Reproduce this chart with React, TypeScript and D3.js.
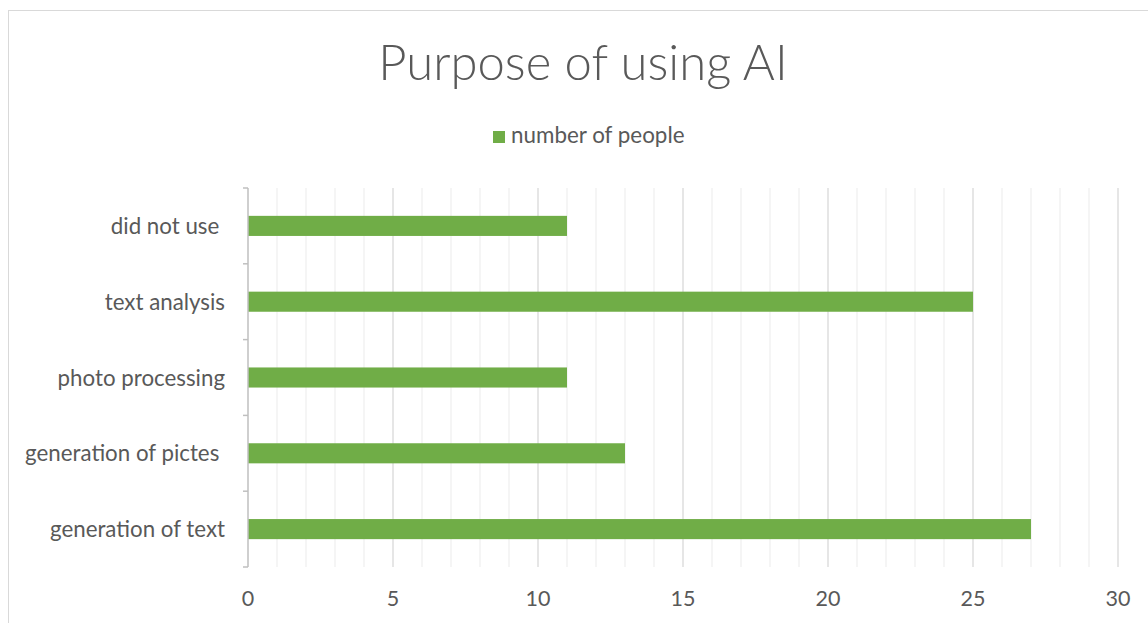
import React from "react";
import * as d3 from "d3";

const categories = ["did not use ", "text analysis", "photo processing", "generation of pictes ", "generation of text"];
const values = [11, 25, 11, 13, 27];
const xTicks = [0, 5, 10, 15, 20, 25, 30];
const seriesName = "number of people";
const title = "Purpose of using AI";

const W = 1148;
const H = 623;
const FONT = "Lato, 'Open Sans', sans-serif";
const TEXT = "#595959";
const BAR = "#70ad47";

export default function App() {
  const x = d3.scaleLinear().domain([0, 30]).range([248, 1118]);
  const y = d3.scaleBand<string>().domain(categories).range([188, 567]);
  const bw = y.bandwidth();
  const barH = bw * 0.265;
  const minor = d3.range(1, 30).filter((v) => v % 5 !== 0);
  const boundaries = d3.range(0, categories.length + 1).map((i) => 188 + i * bw);

  return (
    <svg width={W} height={H} style={{ position: "absolute", left: 0, top: 0, background: "#fff" }}>
      <rect x={8.5} y={10.5} width={1150} height={650} fill="#fff" stroke="#d9d9d9" strokeWidth={1} />
      <text x={583} y={80} textAnchor="middle" fontFamily={FONT} fontWeight={300} fontSize={49} fill={TEXT}>
        {title}
      </text>
      <rect x={493} y={131} width={12} height={12} fill={BAR} />
      <text x={511} y={143} fontFamily={FONT} fontSize={22.4} fill={TEXT}>
        {seriesName}
      </text>
      {minor.map((v) => (
        <line key={"m" + v} x1={x(v)} x2={x(v)} y1={188} y2={567} stroke="#f0f0f0" strokeWidth={1.3} />
      ))}
      {xTicks.slice(1).map((v) => (
        <line key={"M" + v} x1={x(v)} x2={x(v)} y1={188} y2={567} stroke="#d9d9d9" strokeWidth={1.3} />
      ))}
      {categories.map((c, i) => (
        <rect
          key={c}
          x={x(0)}
          y={(y(c) as number) + bw / 2 - barH / 2}
          width={x(values[i]) - x(0)}
          height={barH}
          fill={BAR}
        />
      ))}
      <line x1={x(0)} x2={x(0)} y1={188} y2={567} stroke="#bfbfbf" strokeWidth={1.5} />
      {boundaries.map((b, i) => (
        <line key={"t" + i} x1={243} x2={x(0)} y1={b} y2={b} stroke="#bfbfbf" strokeWidth={1.5} />
      ))}
      {categories.map((c) => (
        <text
          key={"l" + c}
          x={225}
          y={(y(c) as number) + bw / 2 + 8}
          textAnchor="end"
          fontFamily={FONT}
          fontSize={22.3}
          fill={TEXT}
          style={{ whiteSpace: "pre" }}
        >
          {c}
        </text>
      ))}
      {xTicks.map((v) => (
        <text key={"x" + v} x={x(v)} y={606} textAnchor="middle" fontFamily={FONT} fontSize={21.5} fill={TEXT}>
          {v}
        </text>
      ))}
    </svg>
  );
}
